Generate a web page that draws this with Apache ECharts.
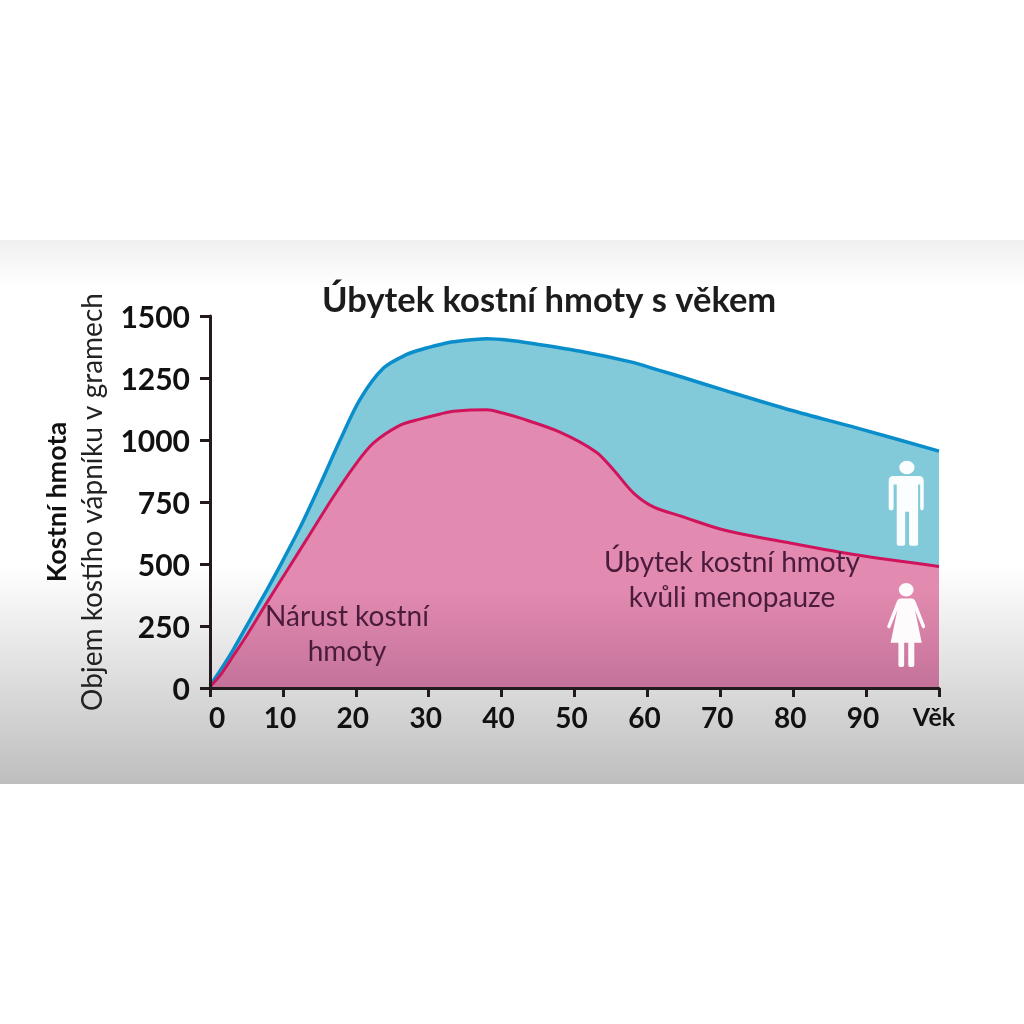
<!DOCTYPE html>
<html>
<head>
<meta charset="utf-8">
<style>
html, body { margin: 0; padding: 0; background: #fff; }
#container { width: 1024px; height: 1024px; }
</style>
<script src="https://cdn.jsdelivr.net/npm/echarts@6/dist/echarts.min.js"></script>
</head>
<body>
<div id="container"></div>
<script>
var menAges = [0, 1.5, 3.2, 5.5, 7.8, 9.2, 12.4, 15.1, 17.9, 20.6, 23.8, 27, 29, 31.6, 33.4, 38, 41, 44, 50.8, 57.7, 61.4, 64.6, 70.5, 79.7, 88.8, 100];
var menValues = [10, 75, 155, 275, 395, 470, 650, 820, 1003, 1165, 1290, 1345, 1365, 1385, 1396, 1408, 1402, 1390, 1358, 1315, 1283, 1255, 1201, 1120, 1048, 955];
var womenAges = [0, 1.5, 3.2, 5.1, 7.5, 10.7, 13.7, 16.9, 19.7, 22.4, 26.1, 28.8, 31.6, 33.4, 38, 40, 42.6, 48, 53, 55.4, 58.1, 60.9, 64.6, 70.5, 79.7, 88.8, 100];
var womenValues = [5, 55, 130, 215, 330, 480, 620, 770, 891, 987, 1060, 1084, 1105, 1116, 1122, 1110, 1088, 1032, 951, 878, 786, 729, 693, 637, 584, 536, 490];

var titleText = 'Úbytek kostní hmoty s věkem';
var yNameBold = 'Kostní hmota';
var yNameThin = 'Objem kostího vápníku v gramech';
var lastTickLabel = 'Věk';

var manIcon = 'path://M30 20A22 20 0 1 1 74 20A22 20 0 1 1 30 20ZM14 45H86Q100 45 100 60V140Q100 146 95 146Q90 146 90 140V70H84V245Q84 250 78 250H64Q58 250 58 245V150H47V245Q47 250 41 250H29Q23 250 23 245V70H14V140Q14 146 7 146Q0 146 0 140V60Q0 45 14 45Z';
var womanIcon = 'path://M34 20A22 20 0 1 1 78 20A22 20 0 1 1 34 20ZM40 46H72Q80 46 84 56L112 128Q113 134 108 135Q104 136 102 130L82 80L102 178H80V245Q80 250 74 250H68Q62 250 62 245V178H50V245Q50 250 44 250H38Q33 250 33 245V178H10L30 80L10 130Q8 136 4 135Q-1 134 0 128L28 56Q32 46 40 46Z';

function zip(xs, ys) {
    return xs.map(function (x, i) { return [x, ys[i]]; });
}

function note(text, x, y) {
    return {
        type: 'text', x: x, y: y, z: 10,
        style: {
            text: text, fill: '#4a1c3c', align: 'center', verticalAlign: 'middle',
            font: '28px Lato', lineHeight: 35
        }
    };
}

var myChart = echarts.init(document.getElementById('container'), null, { renderer: 'canvas' });

var option = {
    animation: false,
    backgroundColor: '#ffffff',
    textStyle: { fontFamily: 'Lato' },
    title: {
        text: titleText, left: 317, top: 278,
        textStyle: { fontFamily: 'Lato', fontSize: 34.5, fontWeight: 'bold', color: '#1c1c1c' }
    },
    grid: { left: 210, right: 85, top: 316, bottom: 336 },
    xAxis: {
        type: 'value', min: 0, max: 100, interval: 10, z: 5,
        splitLine: { show: false },
        axisLine: { lineStyle: { color: '#231a20', width: 3 } },
        axisTick: { length: 9, lineStyle: { color: '#231a20', width: 3 } },
        axisLabel: {
            margin: 17, color: '#111', fontSize: 28, fontWeight: 'bold', fontFamily: 'Lato',
            padding: [0, 6, 0, 0],
            formatter: function (v) {
                if (v === 100) return '{last|' + lastTickLabel + '}';
                if (v === 0) return '{zero|0}';
                return v;
            },
            rich: {
                last: { fontSize: 25, fontWeight: 'bold', color: '#111', padding: [0, 4, 10, 0], fontFamily: 'Lato' },
                zero: { fontSize: 28, fontWeight: 'bold', color: '#111', padding: [0, 0, 0, 20], fontFamily: 'Lato' }
            }
        }
    },
    yAxis: {
        type: 'value', min: 0, max: 1500, interval: 250, z: 5,
        splitLine: { show: false },
        axisLine: { show: true, lineStyle: { color: '#231a20', width: 3 } },
        axisTick: { show: true, length: 10, lineStyle: { color: '#231a20', width: 3 } },
        axisLabel: {
            margin: 20,
            formatter: function (v) { return '{n|' + v + '}'; },
            rich: {
                n: { fontSize: 30, fontWeight: 'bold', color: '#111', fontFamily: 'Lato', padding: [5, 0, 0, 0] }
            }
        },
        name: '{a|' + yNameBold + '}\n{b|' + yNameThin + '}',
        nameLocation: 'middle',
        nameRotate: 90,
        nameGap: 99,
        nameTextStyle: {
            rich: {
                a: { fontSize: 27, fontWeight: 'bold', color: '#111', fontFamily: 'Lato', lineHeight: 36 },
                b: { fontSize: 28, color: '#222', fontFamily: 'Lato', lineHeight: 36 }
            }
        }
    },
    graphic: [
        {
            type: 'rect', z: -10, silent: true,
            shape: { x: 0, y: 240, width: 1024, height: 544 },
            style: {
                fill: new echarts.graphic.LinearGradient(0, 0, 0, 1, [
                    { offset: 0, color: '#f0f0f0' },
                    { offset: 0.09, color: '#ffffff' },
                    { offset: 0.6, color: '#ffffff' },
                    { offset: 1, color: '#bebebe' }
                ])
            }
        },
        note('Nárust kostní\nhmoty', 347, 634),
        note('Úbytek kostní hmoty\nkvůli menopauze', 732, 580)
    ],
    series: [
        {
            name: 'Muži', type: 'line', data: zip(menAges, menValues),
            smooth: 0.3, showSymbol: false, z: 2,
            lineStyle: { color: '#0a8ecb', width: 3.5 },
            areaStyle: { color: '#82c9da', opacity: 1 }
        },
        {
            name: 'Ženy', type: 'line', data: zip(womenAges, womenValues),
            smooth: 0.3, showSymbol: false, z: 3,
            lineStyle: { color: '#d0145c', width: 3 },
            areaStyle: {
                opacity: 1,
                color: new echarts.graphic.LinearGradient(0, 0, 0, 1, [
                    { offset: 0, color: '#e28aaf' },
                    { offset: 0.65, color: '#e28aaf' },
                    { offset: 1, color: '#c4729a' }
                ])
            },
            markPoint: {
                silent: true,
                symbolKeepAspect: false,
                itemStyle: { color: '#ffffff', opacity: 0.97 },
                label: { show: false },
                data: [
                    { coord: [95.5, 745], symbol: manIcon, symbolSize: [35, 85] },
                    { coord: [95.5, 254], symbol: womanIcon, symbolSize: [38, 84] }
                ]
            }
        }
    ]
};

myChart.setOption(option);
</script>
</body>
</html>
